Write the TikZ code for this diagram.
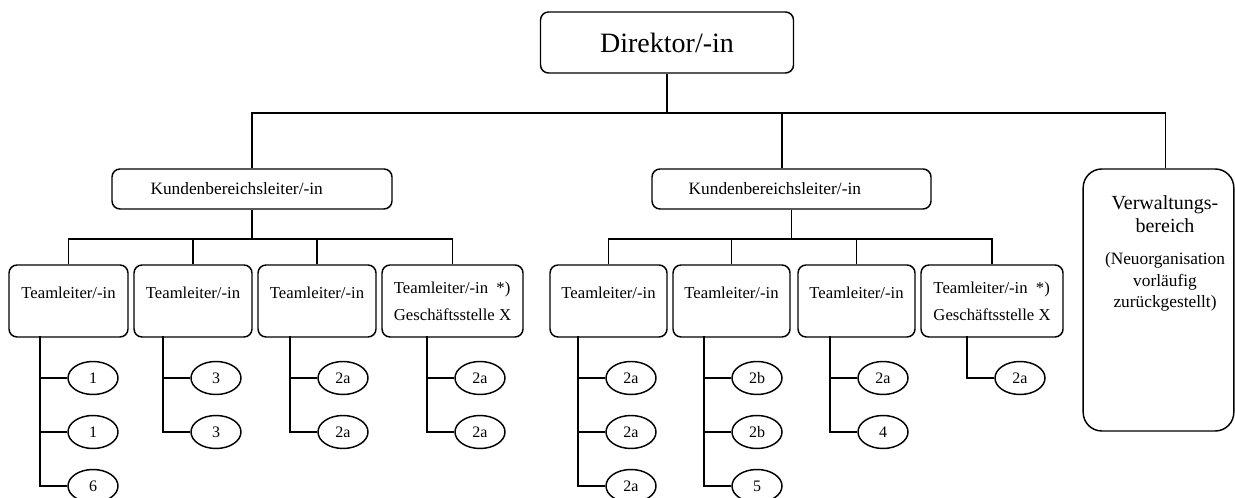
\documentclass[tikz,border=0pt]{standalone}
\usepackage{fontspec}
\setmainfont{Liberation Serif}
\usetikzlibrary{shapes.geometric}
\tikzset{
  box/.style={draw, rounded corners=6pt, line width=1.1pt, align=center, inner sep=0pt},
  team/.style={box, minimum height=54pt, text depth=12pt, font=\fontsize{12.5}{20}\selectfont},
  kid/.style={draw, ellipse, line width=1.1pt, minimum width=37.5pt, minimum height=24.75pt,
    inner sep=0pt, font=\fontsize{12}{14}\selectfont},
}
\begin{document}
\begin{tikzpicture}[x=0.75pt, y=-0.75pt, line width=1.1pt]
  \useasboundingbox (0,0) rectangle (1235,498);
  \node[box, minimum width=189.75pt, minimum height=45.75pt, font=\fontsize{21}{24}\selectfont]
    (dir) at (667,42.5) {Direktor/-in};
  \node[box, minimum width=210pt, minimum height=30pt, font=\fontsize{13}{15}\selectfont]
    (kb1) at (252,189) {Kundenbereichsleiter/-in\hspace*{23pt}};
  \node[box, minimum width=209.25pt, minimum height=30pt, font=\fontsize{13}{15}\selectfont]
    (kb2) at (791.5,189) {Kundenbereichsleiter/-in\hspace*{25pt}};
  \node[box, rounded corners=14pt, minimum width=113pt, minimum height=196.5pt]
    (vw) at (1158.5,300) {};
  \node[font=\fontsize{15}{17.25}\selectfont, align=center] (vwa) at (1165,214) {Verwaltungs-\\bereich};
  \node[font=\fontsize{13}{16}\selectfont, align=center] (vwb) at (1165,282)
    {(Neuorganisation\\vorläufig\\zurückgestellt)};
  \foreach \tm/\cx/\w in {t1/68.5/119, t2/193/118, t3/317/118, t5/608.5/117, t6/731.5/117, t7/856.5/117}
    \node[team, minimum width=0.75*\w pt] (\tm) at (\cx,301) {Teamleiter/-in};
  \foreach \tm/\cx/\w in {t4/452.5/141, t8/992/142}
    \node[team, align=left, text depth=0pt, minimum width=0.75*\w pt] (\tm) at (\cx,301)
      {Teamleiter/-in\ \ *)\\Geschäftsstelle X};
  \coordinate (top) at (667,113);
  \coordinate (b1) at (252,239);
  \coordinate (b2) at (791.5,239);
  \draw (dir) -- (top);
  \draw (kb1.north) |- (top) -| ([xshift=5.25pt]vw.north);
  \draw ([xshift=-7pt]kb2.north) -- ([xshift=-7pt]kb2.north |- top);
  \draw (kb1) -- (b1);
  \draw (kb2) -- (b2);
  \draw (t1.north) |- (b1) -| (t4.north);
  \draw (t5.north) |- (b2) -| (t8.north);
  \foreach \tm in {t2,t3}
    \draw (\tm.north) -- (\tm.north |- b1);
  \foreach \tm in {t6,t7}
    \draw (\tm.north) -- (\tm.north |- b2);
  \foreach \tm/\sp/\kids in {t1/40/{1,1,6}, t2/163/{3,3}, t3/290/{2a,2a}, t4/427/{2a,2a},
      t5/578/{2a,2a,2a}, t6/704/{2b,2b,5}, t7/830/{2a,4}, t8/967/{2a}}
  {
    \coordinate (\tm sp) at (\sp,336);
    \foreach \k [count=\i] in \kids {
      \node[kid] (\tm k\i) at (\sp+53,324+54*\i) {\k};
      \draw (\tm k\i.west) -| (\tm sp);
    }
  }
\end{tikzpicture}
\end{document}
